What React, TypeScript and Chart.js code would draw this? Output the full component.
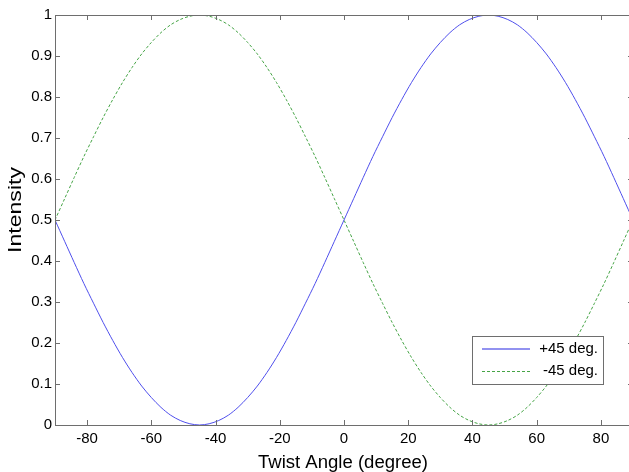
import React, { useEffect, useRef } from "react";
import { Chart, registerables } from "chart.js";

Chart.register(...registerables);

const angles = [
  -90, -87, -84, -81, -78, -75, -72, -69, -66, -63, -60, -57, -54, -51, -48, -45,
  -42, -39, -36, -33, -30, -27, -24, -21, -18, -15, -12, -9, -6, -3, 0,
  3, 6, 9, 12, 15, 18, 21, 24, 27, 30, 33, 36, 39, 42, 45,
  48, 51, 54, 57, 60, 63, 66, 69, 72, 75, 78, 81, 84, 87, 90,
];

const plus45 = [
  0.5, 0.448, 0.396, 0.345, 0.297, 0.25, 0.206, 0.165, 0.128, 0.095, 0.067, 0.043, 0.024, 0.011, 0.003, 0.0,
  0.003, 0.011, 0.024, 0.043, 0.067, 0.095, 0.128, 0.165, 0.206, 0.25, 0.297, 0.345, 0.396, 0.448, 0.5,
  0.552, 0.604, 0.655, 0.703, 0.75, 0.794, 0.835, 0.872, 0.905, 0.933, 0.957, 0.976, 0.989, 0.997, 1.0,
  0.997, 0.989, 0.976, 0.957, 0.933, 0.905, 0.872, 0.835, 0.794, 0.75, 0.703, 0.655, 0.604, 0.552, 0.5,
];

const minus45 = [
  0.5, 0.552, 0.604, 0.655, 0.703, 0.75, 0.794, 0.835, 0.872, 0.905, 0.933, 0.957, 0.976, 0.989, 0.997, 1.0,
  0.997, 0.989, 0.976, 0.957, 0.933, 0.905, 0.872, 0.835, 0.794, 0.75, 0.703, 0.655, 0.604, 0.552, 0.5,
  0.448, 0.396, 0.345, 0.297, 0.25, 0.206, 0.165, 0.128, 0.095, 0.067, 0.043, 0.024, 0.011, 0.003, 0.0,
  0.003, 0.011, 0.024, 0.043, 0.067, 0.095, 0.128, 0.165, 0.206, 0.25, 0.297, 0.345, 0.396, 0.448, 0.5,
];

const xTicks = [-80, -60, -40, -20, 0, 20, 40, 60, 80];
const yTicks = [0, 0.1, 0.2, 0.3, 0.4, 0.5, 0.6, 0.7, 0.8, 0.9, 1];
const seriesLabels = ["+45 deg.", "-45 deg."];
const xTitle = "Twist Angle (degree)";
const yTitle = "Intensity";

const BLUE = "#4f4fec";
const BLUE_LEGEND = "rgba(110,110,235,0.75)";
const GREEN = "#46a446";
const FRAME = "#6e6e6e";
const FONT = "'Liberation Sans', Arial, sans-serif";

function stretchedText(ctx: any, text: string, cx: number, cy: number, targetWidth: number) {
  const w = ctx.measureText(text).width;
  const sx = targetWidth / w;
  ctx.save();
  ctx.translate(cx, cy);
  ctx.scale(sx, 1);
  ctx.fillText(text, 0, 0);
  ctx.restore();
}

const framePlugin = {
  id: "matlabFrame",
  afterDraw(chart: any) {
    const { ctx, chartArea: a, scales } = chart;
    const xs = scales.x;
    const ys = scales.y;
    ctx.save();
    ctx.strokeStyle = FRAME;
    ctx.lineWidth = 1;
    ctx.strokeRect(Math.round(a.left) + 0.5, Math.round(a.top) + 0.5, Math.round(a.right - a.left), Math.round(a.bottom - a.top));
    const tl = 5;
    ctx.beginPath();
    xTicks.forEach((v) => {
      const px = Math.round(xs.getPixelForValue(v)) + 0.5;
      ctx.moveTo(px, a.bottom);
      ctx.lineTo(px, a.bottom - tl);
      ctx.moveTo(px, a.top);
      ctx.lineTo(px, a.top + tl);
    });
    yTicks.forEach((v) => {
      const py = Math.round(ys.getPixelForValue(v)) + 0.5;
      ctx.moveTo(a.left, py);
      ctx.lineTo(a.left + tl, py);
      ctx.moveTo(a.right, py);
      ctx.lineTo(a.right - tl, py);
    });
    ctx.stroke();

    // legend
    const lx = 472.5, ly = 336.5, lw = 131, lh = 48;
    ctx.fillStyle = "#ffffff";
    ctx.fillRect(lx, ly, lw, lh);
    ctx.strokeStyle = FRAME;
    ctx.strokeRect(lx, ly, lw, lh);

    ctx.beginPath();
    ctx.strokeStyle = BLUE_LEGEND;
    ctx.lineWidth = 2;
    ctx.moveTo(482, 349);
    ctx.lineTo(530, 349);
    ctx.stroke();

    ctx.beginPath();
    ctx.strokeStyle = GREEN;
    ctx.lineWidth = 1;
    ctx.setLineDash([3, 2]);
    ctx.moveTo(482, 371.5);
    ctx.lineTo(530, 371.5);
    ctx.stroke();
    ctx.setLineDash([]);

    ctx.fillStyle = "#000";
    ctx.font = "15px " + FONT;
    ctx.textAlign = "right";
    ctx.textBaseline = "middle";
    ctx.fillText(seriesLabels[0], 598, 349);
    ctx.fillText(seriesLabels[1], 598, 371);

    // axis titles
    ctx.font = "18px " + FONT;
    ctx.textAlign = "center";
    ctx.textBaseline = "middle";
    stretchedText(ctx, xTitle, 343, 463, 170);
    ctx.save();
    ctx.translate(16, 210);
    ctx.rotate(-Math.PI / 2);
    stretchedText(ctx, yTitle, 0, 0, 86);
    ctx.restore();
    ctx.restore();
  },
};

export default function App() {
  const ref = useRef<HTMLCanvasElement>(null);
  useEffect(() => {
    document.body.style.margin = "0";
    document.body.style.overflow = "hidden";
    const canvas = ref.current!;
    const chart = new Chart(canvas, {
      type: "line",
      data: {
        datasets: [
          {
            label: seriesLabels[0],
            data: angles.map((x, i) => ({ x, y: plus45[i] })),
            borderColor: BLUE,
            borderWidth: 1,
            pointRadius: 0,
            tension: 0.3,
            fill: false,
          },
          {
            label: seriesLabels[1],
            data: angles.map((x, i) => ({ x, y: minus45[i] })),
            borderColor: GREEN,
            borderWidth: 1,
            borderDash: [3, 2],
            pointRadius: 0,
            tension: 0.3,
            fill: false,
          },
        ],
      },
      options: {
        animation: false,
        responsive: false,
        devicePixelRatio: 1,
        layout: { padding: { top: 15, right: 7, bottom: 0, left: 0 } },
        plugins: { legend: { display: false }, tooltip: { enabled: false } },
        scales: {
          x: {
            type: "linear",
            min: -90,
            max: 90,
            grid: { display: false, drawTicks: false },
            border: { display: false },
            afterFit: (s: any) => { s.height = 47; },
            afterBuildTicks: (s: any) => { s.ticks = xTicks.map((v) => ({ value: v })); },
            ticks: {
              color: "#000",
              font: { family: FONT, size: 15 },
              padding: 5,
              maxRotation: 0,
              autoSkip: false,
              callback: (v: any) => String(v),
            },
          },
          y: {
            type: "linear",
            min: 0,
            max: 1,
            grid: { display: false, drawTicks: false },
            border: { display: false },
            afterFit: (s: any) => { s.width = 55; },
            afterBuildTicks: (s: any) => { s.ticks = yTicks.map((v) => ({ value: v })); },
            ticks: {
              color: "#000",
              font: { family: FONT, size: 15 },
              padding: 3,
              autoSkip: false,
              callback: (v: any) => String(Math.round(Number(v) * 10) / 10),
            },
          },
        },
      },
      plugins: [framePlugin],
    });
    return () => chart.destroy();
  }, []);
  return (
    <div style={{ width: 629, height: 472, overflow: "hidden", background: "#fff" }}>
      <canvas ref={ref} width={640} height={472} style={{ display: "block" }} />
    </div>
  );
}
